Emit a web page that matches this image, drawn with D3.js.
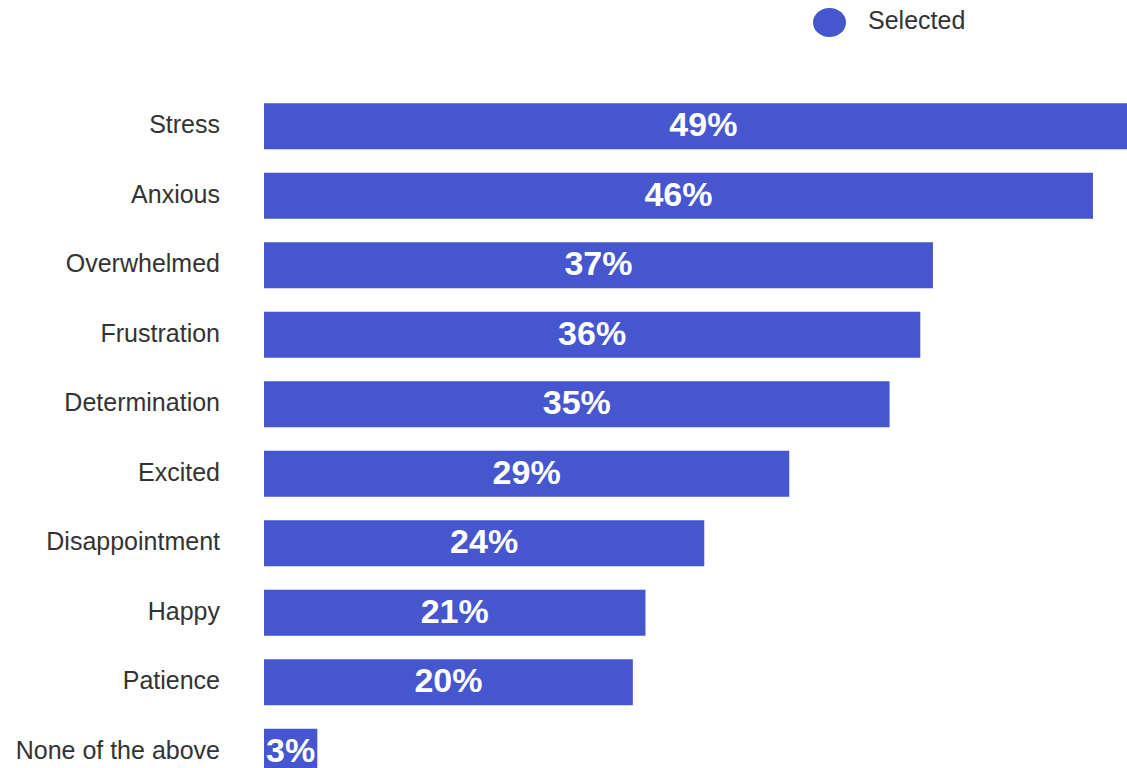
<!DOCTYPE html>
<html>
<head>
<meta charset="utf-8">
<script src="https://cdn.jsdelivr.net/npm/d3@7"></script>
<style>
  html, body { margin: 0; padding: 0; background: #fff; overflow: hidden; }
  svg { display: block; font-family: "Liberation Sans", Arial, sans-serif; }
</style>
</head>
<body>
<svg id="chart" width="1127" height="768"></svg>
<script>
// data (labels are the rounded values)
var categories = ["Stress", "Anxious", "Overwhelmed", "Frustration", "Determination",
	"Excited", "Disappointment", "Happy", "Patience", "None of the above"];
var values = [48.6, 45.85, 37.0, 36.3, 34.6, 29.05, 24.35, 21.1, 20.4, 2.95];
var valueLabels = ["49%", "46%", "37%", "36%", "35%", "29%", "24%", "21%", "20%", "3%"];
var legendLabel = "Selected";

var BAR_X = 264;
var PX_PER_PCT = 18.08;
var ROW_TOP = 91.5, ROW_STEP = 69.5, BAR_H = 46;
var BAR_COLOR = "#4556ce";

var svg = d3.select("#chart");

var x = d3.scaleLinear()
	.domain([0, 100])
	.range([BAR_X, BAR_X + 100 * PX_PER_PCT]);

var y = d3.scaleBand()
	.domain(categories)
	.range([ROW_TOP, ROW_TOP + ROW_STEP * categories.length])
	.paddingInner((ROW_STEP - BAR_H) / ROW_STEP)
	.paddingOuter((ROW_STEP - BAR_H) / ROW_STEP / 2);

var rows = categories.map(function(c, i) {
	return { cat: c, v: values[i], label: valueLabels[i] };
});

// bars
svg.append("g").selectAll("rect")
	.data(rows).enter().append("rect")
	.attr("x", x(0))
	.attr("y", function(d) { return y(d.cat); })
	.attr("width", function(d) { return x(d.v) - x(0); })
	.attr("height", y.bandwidth())
	.attr("fill", BAR_COLOR);

// value labels in the middle of each bar
svg.append("g").selectAll("text")
	.data(rows).enter().append("text")
	.attr("x", function(d) { return (x(0) + x(d.v)) / 2; })
	.attr("y", function(d) { return y(d.cat) + y.bandwidth() / 2; })
	.attr("dy", "0.3em")
	.attr("text-anchor", "middle")
	.attr("fill", "#fff")
	.attr("font-weight", "bold")
	.attr("font-size", "34px")
	.text(function(d) { return d.label; });

// category axis, no line or ticks
var yAxis = svg.append("g")
	.attr("transform", "translate(" + (BAR_X - 44) + ",0)")
	.call(d3.axisLeft(y).tickSize(0).tickPadding(0));
yAxis.select(".domain").remove();
yAxis.selectAll("text")
	.attr("font-family", "'Liberation Sans', Arial, sans-serif")
	.attr("font-size", "25px")
	.attr("fill", "#333")
	.attr("dy", "0.28em");

// legend
var legend = svg.append("g");
legend.append("ellipse")
	.attr("cx", 829.5).attr("cy", 22.5)
	.attr("rx", 16.5).attr("ry", 14.5)
	.attr("fill", BAR_COLOR);
legend.append("text")
	.attr("x", 868).attr("y", 21)
	.attr("dy", "0.32em")
	.attr("font-size", "25px")
	.attr("fill", "#333")
	.text(legendLabel);
</script>
</body>
</html>
